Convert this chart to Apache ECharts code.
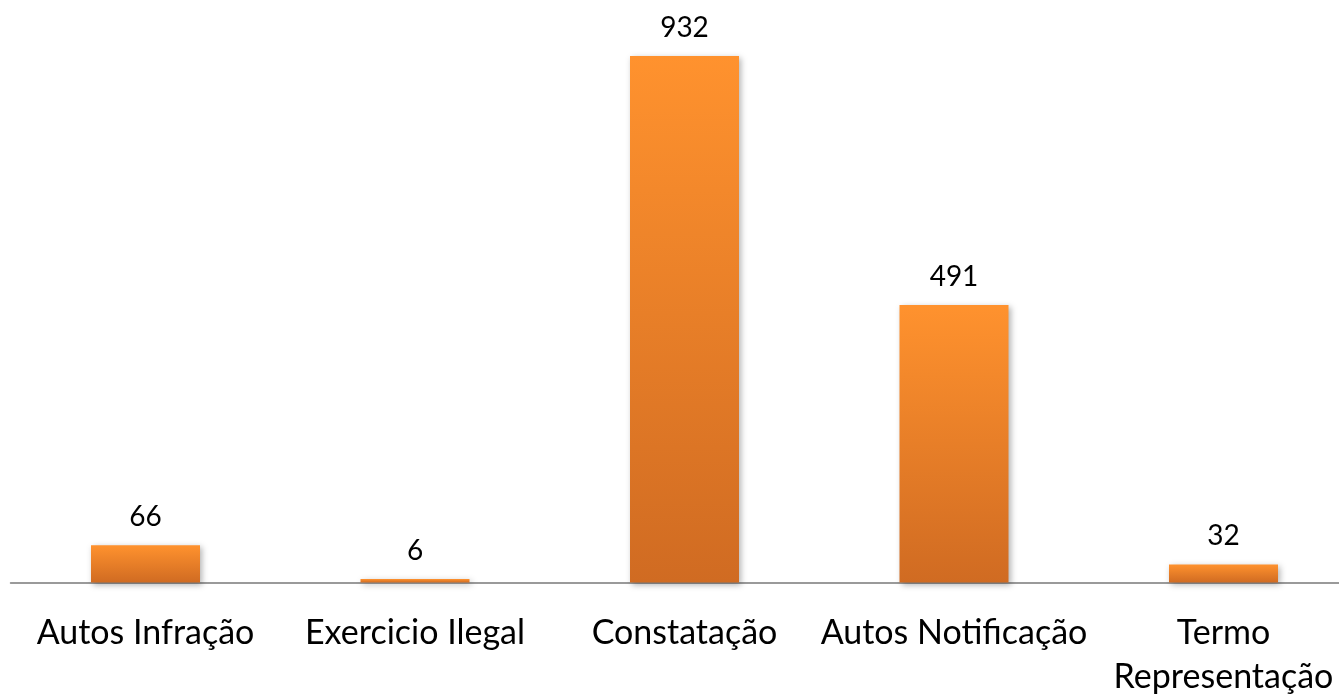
<!DOCTYPE html>
<html><head><meta charset="utf-8">
<script src="https://cdn.jsdelivr.net/npm/echarts@6/dist/echarts.min.js"></script>
<style>html,body{margin:0;padding:0;background:#fff}#c{width:1339px;height:694px}</style>
</head><body><div id="c"></div>
<script>
const categories = ['Autos Infração', 'Exercicio Ilegal', 'Constatação', 'Autos Notificação', 'Termo\nRepresentação'];
const values = [66, 6, 932, 491, 32];

const chart = echarts.init(document.getElementById('c'));
chart.setOption({
  animation: false,
  grid: { left: 10.75, width: 1347.5, top: 0, bottom: 111.5, outerBoundsMode: 'none', containLabel: false },
  xAxis: {
    type: 'category', data: categories,
    axisTick: { show: false },
    axisLine: { lineStyle: { color: '#9a9a9a', width: 2 } },
    axisLabel: { interval: 0, color: '#000', fontFamily: 'Lato', fontSize: 34, lineHeight: 44, margin: 29 }
  },
  yAxis: { type: 'value', min: 0, max: 1031, show: false, splitLine: { show: false } },
  series: [{
    type: 'bar', data: values, barWidth: 109,
    itemStyle: {
      color: new echarts.graphic.LinearGradient(0, 0, 0, 1, [
        { offset: 0, color: '#ff922e' }, { offset: 1, color: '#d06b22' }
      ]),
      shadowColor: 'rgba(0,0,0,0.3)', shadowBlur: 6, shadowOffsetX: 2, shadowOffsetY: 2
    },
    label: { show: true, position: 'top', distance: 14, color: '#000', fontFamily: 'Lato', fontSize: 28 }
  }]
});
</script></body></html>
